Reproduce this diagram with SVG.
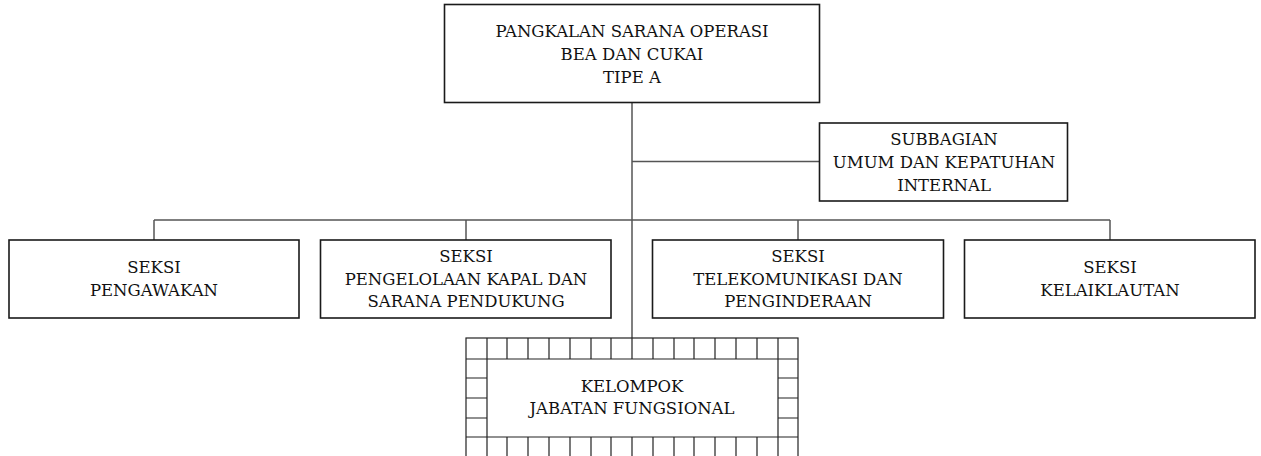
<svg xmlns="http://www.w3.org/2000/svg" width="1261" height="456" viewBox="0 0 1261 456">
<style>
.box{fill:#fff;stroke:#1a1a1a;stroke-width:1.6}
.conn{fill:none;stroke:#555;stroke-width:1.5}
.grid{fill:none;stroke:#222;stroke-width:1.2}
text{font-family:"DejaVu Serif","Liberation Serif",serif;font-size:16.5px;fill:#111;text-anchor:middle}
</style>
<rect width="1261" height="456" fill="#fff"/>
<g id="connectors">
<path class="conn" d="M632 103V338"/>
<path class="conn" d="M632 161.5H819"/>
<path class="conn" d="M154 220H1110"/>
<path class="conn" d="M154 220V240M466 220V240M798 220V240M1110 220V240"/>
</g>
<g id="top">
<rect class="box" x="444.5" y="4.5" width="375" height="98"/>
<text x="632" y="37">PANGKALAN SARANA OPERASI</text>
<text x="632" y="60">BEA DAN CUKAI</text>
<text x="632" y="83">TIPE A</text>
</g>
<g id="subbagian">
<rect class="box" x="819.5" y="123" width="248" height="78"/>
<text x="944" y="145">SUBBAGIAN</text>
<text x="944" y="168">UMUM DAN KEPATUHAN</text>
<text x="944" y="191">INTERNAL</text>
</g>
<g id="seksi1">
<rect class="box" x="9" y="240" width="290" height="78"/>
<text x="154" y="273">SEKSI</text>
<text x="154" y="296">PENGAWAKAN</text>
</g>
<g id="seksi2">
<rect class="box" x="320.5" y="240" width="290.5" height="78"/>
<text x="466" y="262">SEKSI</text>
<text x="466" y="285">PENGELOLAAN KAPAL DAN</text>
<text x="466" y="307">SARANA PENDUKUNG</text>
</g>
<g id="seksi3">
<rect class="box" x="652.5" y="240" width="291" height="78"/>
<text x="798" y="262">SEKSI</text>
<text x="798" y="285">TELEKOMUNIKASI DAN</text>
<text x="798" y="307">PENGINDERAAN</text>
</g>
<g id="seksi4">
<rect class="box" x="964.5" y="240" width="290.5" height="78"/>
<text x="1110" y="273">SEKSI</text>
<text x="1110" y="296">KELAIKLAUTAN</text>
</g>
<g id="kelompok">
<rect class="grid" x="466" y="338" width="332" height="130"/>
<path class="grid" d="M466 359H798M466 437H798M466 378H487M466 398H487M466 418H487M778 378H798M778 398H798M778 418H798
M487 338V359M507 338V359M528 338V359M549 338V359M570 338V359M591 338V359M611 338V359M632 338V359M653 338V359M674 338V359M694 338V359M715 338V359M736 338V359M757 338V359M778 338V359
M487 437V468M507 437V468M528 437V468M549 437V468M570 437V468M591 437V468M611 437V468M632 437V468M653 437V468M674 437V468M694 437V468M715 437V468M736 437V468M757 437V468M778 437V468
M487 359V437M778 359V437"/>
<text x="632" y="392">KELOMPOK</text>
<text x="632" y="414">JABATAN FUNGSIONAL</text>
</g>
</svg>
